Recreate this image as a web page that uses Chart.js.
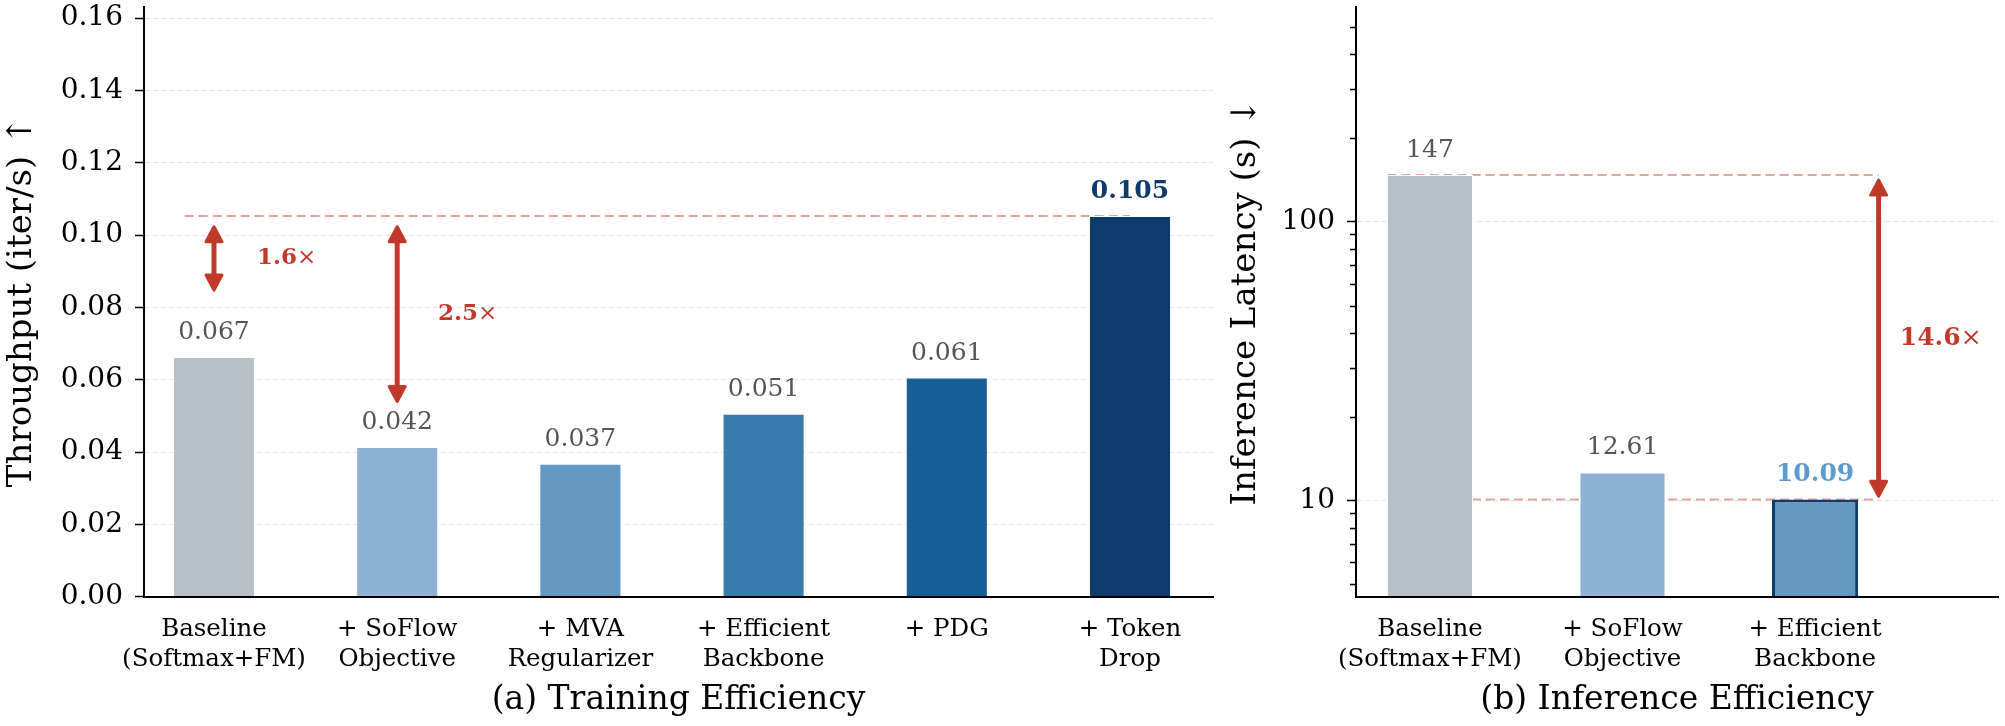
<!DOCTYPE html>
<html>
<head>
<meta charset="utf-8">
<script src="https://cdn.jsdelivr.net/npm/chart.js@4.4.1/dist/chart.umd.min.js"></script>
<style>
  html, body { margin: 0; padding: 0; background: #fff; }
  #wrap { position: relative; width: 2005px; height: 726px; overflow: hidden; }
  canvas { position: absolute; top: 0; }
</style>
</head>
<body>
<div id="wrap">
  <canvas id="train" width="1225" height="726" style="left:0px"></canvas>
  <canvas id="infer" width="780" height="726" style="left:1225px"></canvas>
</div>
<script>
// (a) training efficiency
const trainLabels = ['Baseline\n(Softmax+FM)', '+ SoFlow\nObjective', '+ MVA\nRegularizer', '+ Efficient\nBackbone', '+ PDG', '+ Token\nDrop'];
const trainThroughput = [0.0663, 0.0414, 0.0368, 0.0506, 0.0606, 0.1053];
const trainValueText = ['0.067', '0.042', '0.037', '0.051', '0.061', '0.105'];
const trainColors = ['#b8c0c8', '#8db3d4', '#6398c2', '#387cae', '#165f97', '#0d3b6a'];
const trainYTicks = [0, 0.02, 0.04, 0.06, 0.08, 0.10, 0.12, 0.14, 0.16];
const trainSpeedupText = ['1.6', '2.5'];

// (b) inference efficiency
const inferLabels = ['Baseline\n(Softmax+FM)', '+ SoFlow\nObjective', '+ Efficient\nBackbone'];
const inferLatency = [147, 12.61, 10.09];
const inferValueText = ['147', '12.61', '10.09'];
const inferColors = ['#b8c0c8', '#8db3d4', '#6398c2'];
const inferMajorTicks = [10, 100];
const inferMinorTicks = [5, 6, 7, 8, 9, 20, 30, 40, 50, 60, 70, 80, 90, 200, 300, 400, 500];
const inferSpeedupText = ['14.6'];

const SERIF = "'DejaVu Serif', 'Liberation Serif', serif";
const RED = '#c0392b';

function drawArrow(ctx, x, yA, yB) {
  const head = 15, half = 8;
  const dir = yB > yA ? 1 : -1;
  ctx.save();
  ctx.strokeStyle = RED;
  ctx.fillStyle = RED;
  ctx.lineCap = 'round';
  ctx.lineJoin = 'round';
  ctx.lineWidth = 5;
  ctx.beginPath();
  ctx.moveTo(x, yA + dir * head * 0.8);
  ctx.lineTo(x, yB - dir * head * 0.8);
  ctx.stroke();
  ctx.lineWidth = 3;
  [[yA, dir], [yB, -dir]].forEach(([tip, d]) => {
    ctx.beginPath();
    ctx.moveTo(x, tip);
    ctx.lineTo(x - half, tip + d * head);
    ctx.lineTo(x + half, tip + d * head);
    ctx.closePath();
    ctx.fill();
    ctx.stroke();
  });
  ctx.restore();
}

// reference lines, value labels, speedup arrows
function annotations(cfg) {
  return {
    id: 'annotations',
    beforeDatasetsDraw(chart) {
      const { ctx, scales: { x, y } } = chart;
      ctx.save();
      ctx.strokeStyle = 'rgba(210, 90, 80, 0.55)';
      ctx.lineWidth = 2;
      ctx.setLineDash([9, 5]);
      cfg.refLines.forEach(l => {
        const py = y.getPixelForValue(l.y);
        ctx.beginPath();
        ctx.moveTo(x.getPixelForValue(l.x0), py);
        ctx.lineTo(x.getPixelForValue(l.x1), py);
        ctx.stroke();
      });
      ctx.restore();
    },
    afterDatasetsDraw(chart) {
      const { ctx, scales: { x, y } } = chart;
      ctx.save();
      ctx.textAlign = 'center';
      ctx.textBaseline = 'alphabetic';
      cfg.values.forEach((v, i) => {
        const hl = i === cfg.highlight;
        ctx.font = (hl ? 'bold ' : '') + '25px ' + SERIF;
        ctx.fillStyle = hl ? cfg.highlightColor : '#555555';
        ctx.fillText(cfg.texts[i], x.getPixelForValue(i), y.getPixelForValue(v) - 18);
      });
      cfg.arrows.forEach((a, i) => {
        const px = x.getPixelForValue(a.x);
        const pA = y.getPixelForValue(a.y0), pB = y.getPixelForValue(a.y1);
        drawArrow(ctx, px, pA, pB);
        const tx = x.getPixelForValue(a.tx), ty = (pA + pB) / 2;
        ctx.fillStyle = RED;
        ctx.textAlign = 'left';
        ctx.textBaseline = 'middle';
        ctx.font = 'bold ' + cfg.speedupSize + 'px ' + SERIF;
        ctx.fillText(cfg.speedups[i], tx, ty);
        const w = ctx.measureText(cfg.speedups[i]).width;
        ctx.font = cfg.speedupSize + 'px ' + SERIF;
        ctx.fillText('×', tx + w, ty);
      });
      if (cfg.minorTicks) {
        ctx.strokeStyle = '#000';
        ctx.lineWidth = 1.5;
        cfg.minorTicks.forEach(t => {
          const py = Math.round(y.getPixelForValue(t)) + 0.5;
          ctx.beginPath();
          ctx.moveTo(y.right - 6, py);
          ctx.lineTo(y.right, py);
          ctx.stroke();
        });
      }
      ctx.restore();
    }
  };
}

function xAxis(labels, min, max) {
  return {
    type: 'linear',
    offset: false,
    min: min,
    max: max,
    afterBuildTicks: s => { s.ticks = labels.map((_, i) => ({ value: i })); },
    afterFit: s => { s.height = 83.5; s.paddingLeft = 0; s.paddingRight = 0; },
    grid: { display: false },
    border: { display: true, color: '#000', width: 2, z: 1 },
    ticks: {
      padding: 9.5,
      color: '#000',
      maxRotation: 0,
      autoSkip: false,
      font: { family: SERIF, size: 24.5, lineHeight: 1.23 },
      callback: v => labels[v].split('\n')
    }
  };
}

function yCommon(width, title, pad) {
  return {
    afterFit: s => { s.width = width; s.paddingTop = 0; s.paddingBottom = 0; },
    grid: { color: '#e4e4e4', lineWidth: 1, tickColor: '#000', tickWidth: 1.5, tickLength: 9, tickBorderDash: [] },
    border: { display: true, color: '#000', width: 2, dash: [5, 3], z: 1 },
    title: { display: true, text: title, color: '#000', font: { family: SERIF, size: 34 }, padding: { top: pad, bottom: 0 } }
  };
}

function bottomTitle(text) {
  return {
    display: true, position: 'bottom', fullSize: false, text: text, color: '#000',
    font: { family: SERIF, size: 33, weight: 'normal' }, padding: { top: 0, bottom: 6.2 }
  };
}

// (a) Training Efficiency
new Chart(document.getElementById('train'), {
  type: 'bar',
  data: {
    datasets: [{
      data: trainThroughput.map((v, i) => ({ x: i, y: v })),
      backgroundColor: trainColors,
      borderColor: '#ffffff',
      borderWidth: 1,
      barPercentage: 0.448,
      categoryPercentage: 1
    }]
  },
  options: {
    responsive: false,
    animation: false,
    devicePixelRatio: 1,
    layout: { padding: { top: 7, right: 12, left: 0, bottom: 0 } },
    plugins: { legend: { display: false }, tooltip: { enabled: false }, title: bottomTitle('(a) Training Efficiency') },
    scales: {
      x: xAxis(trainLabels, -0.382, 5.453),
      y: Object.assign(yCommon(144, 'Throughput (iter/s) ↑', 1.6), {
        type: 'linear',
        min: 0,
        max: 0.1631,
        afterBuildTicks: s => { s.ticks = trainYTicks.map(v => ({ value: v })); },
        ticks: { padding: 12, color: '#000', font: { family: SERIF, size: 28 }, callback: v => v.toFixed(2) }
      })
    }
  },
  plugins: [annotations({
    values: trainThroughput,
    texts: trainValueText,
    highlight: 5,
    highlightColor: '#0d3b6a',
    refLines: [{ y: trainThroughput[5], x0: -0.16, x1: 5 }],
    arrows: [
      { x: 0, y0: 0.1023, y1: 0.0848, tx: 0.235 },
      { x: 1, y0: 0.1023, y1: 0.054, tx: 1.223 }
    ],
    speedups: trainSpeedupText,
    speedupSize: 23
  })]
});

// (b) Inference Efficiency
new Chart(document.getElementById('infer'), {
  type: 'bar',
  data: {
    datasets: [{
      data: inferLatency.map((v, i) => ({ x: i, y: v })),
      backgroundColor: inferColors,
      borderColor: ['#ffffff', '#ffffff', '#0d3b6a'],
      borderWidth: [1, 1, 3],
      barPercentage: 0.447,
      categoryPercentage: 1
    }]
  },
  options: {
    responsive: false,
    animation: false,
    devicePixelRatio: 1,
    layout: { padding: { top: 7, right: 7, left: 0, bottom: 0 } },
    plugins: { legend: { display: false }, tooltip: { enabled: false }, title: bottomTitle('(b) Inference Efficiency') },
    scales: {
      x: xAxis(inferLabels, -0.384, 2.95),
      y: Object.assign(yCommon(131, 'Inference Latency (s) ↓', 0.6), {
        type: 'logarithmic',
        min: 4.52,
        max: 589,
        afterBuildTicks: s => { s.ticks = inferMajorTicks.map(v => ({ value: v })); },
        ticks: { padding: 12, color: '#000', font: { family: SERIF, size: 28 }, callback: v => String(v) }
      })
    }
  },
  plugins: [annotations({
    values: inferLatency,
    texts: inferValueText,
    highlight: 2,
    highlightColor: '#5b9bd0',
    refLines: [
      { y: inferLatency[0], x0: -0.22, x1: 2.33 },
      { y: inferLatency[2], x0: 0, x1: 2.33 }
    ],
    arrows: [{ x: 2.33, y0: 141, y1: 10.36, tx: 2.44 }],
    speedups: inferSpeedupText,
    speedupSize: 25,
    minorTicks: inferMinorTicks
  })]
});
</script>
</body>
</html>
